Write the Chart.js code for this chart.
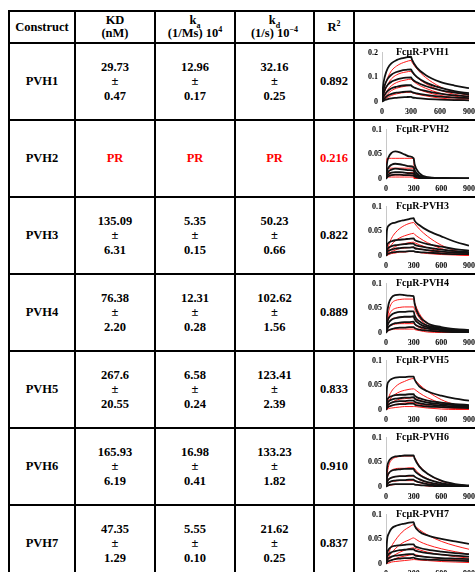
<!DOCTYPE html>
<html>
<head>
<meta charset="utf-8">
<script src="https://cdn.jsdelivr.net/npm/chart.js@4.4.1/dist/chart.umd.min.js"></script>
<style>
  html, body { margin: 0; padding: 0; background: #fff; overflow: hidden; }
  body { width: 475px; height: 572px; position: relative; }
  #kinetics {
    position: absolute; left: 8px; top: 10px;
    border-collapse: collapse; table-layout: fixed; width: 473px;
    font-family: "Liberation Serif", "Times New Roman", serif;
    font-weight: bold; font-size: 12.5px; color: #000;
  }
  #kinetics td, #kinetics th {
    border: 2px solid #000; padding: 0;
    text-align: center; vertical-align: middle; line-height: 14.5px;
  }
  #kinetics th { line-height: 13px; font-weight: bold; }
  #kinetics sub, #kinetics sup { font-size: 8px; line-height: 0; }
  .pr { color: #f00; }
  td.plot { vertical-align: top; }
  td.plot canvas { display: block; }
</style>
</head>
<body>
<table id="kinetics">
  <colgroup>
    <col style="width:66px"><col style="width:80px"><col style="width:80px">
    <col style="width:79px"><col style="width:40px"><col style="width:128px">
  </colgroup>
  <thead>
    <tr style="height:32px">
      <th>Construct</th>
      <th>KD<br>(nM)</th>
      <th>k<sub>a</sub><br>(1/Ms) 10<sup>4</sup></th>
      <th>k<sub>d</sub><br>(1/s) 10<sup>&minus;4</sup></th>
      <th>R<sup>2</sup></th>
      <th></th>
    </tr>
  </thead>
  <tbody id="rows"></tbody>
</table>

<script>
// fitted kinetic constants per construct ("PR" = poor result)
const constructs = ["PVH1", "PVH2", "PVH3", "PVH4", "PVH5", "PVH6", "PVH7"];
const kdNm      = ["29.73", "PR", "135.09", "76.38", "267.6", "165.93", "47.35"];
const kdNmErr   = ["0.47", null, "6.31", "2.20", "20.55", "6.19", "1.29"];
const kaOn      = ["12.96", "PR", "5.35", "12.31", "6.58", "16.98", "5.55"];
const kaOnErr   = ["0.17", null, "0.15", "0.28", "0.24", "0.41", "0.10"];
const kdOff     = ["32.16", "PR", "50.23", "102.62", "123.41", "133.23", "21.62"];
const kdOffErr  = ["0.25", null, "0.66", "1.56", "2.39", "1.82", "0.25"];
const rSquared  = ["0.892", "0.216", "0.822", "0.889", "0.833", "0.910", "0.837"];
const poorFit   = [false, true, false, false, false, false, false];

// sensorgram axes (response units vs seconds)
const sensorTime = [0, 10, 30, 60, 100, 150, 200, 250, 300, 310, 360, 450, 600, 750, 900];
const timeTicks = [0, 300, 600, 900];
const yMax  = [0.2, 0.1, 0.1, 0.1, 0.1, 0.1, 0.1];
const yStep = [0.1, 0.05, 0.05, 0.05, 0.05, 0.05, 0.05];

// measured responses (black) and 1:1 fits (red), one row per analyte concentration
const pvh1Measured = [
  [0, 0.06, 0.105, 0.138, 0.158, 0.170, 0.177, 0.181, 0.184, 0.172, 0.140, 0.110, 0.082, 0.067, 0.056],
  [0, 0.04, 0.07, 0.095, 0.112, 0.122, 0.128, 0.131, 0.133, 0.125, 0.102, 0.080, 0.058, 0.044, 0.036],
  [0, 0.025, 0.05, 0.07, 0.083, 0.091, 0.096, 0.099, 0.100, 0.094, 0.080, 0.065, 0.048, 0.038, 0.030],
  [0, 0.015, 0.03, 0.045, 0.056, 0.062, 0.066, 0.068, 0.069, 0.064, 0.055, 0.045, 0.034, 0.027, 0.023],
  [0, 0.008, 0.016, 0.026, 0.033, 0.038, 0.040, 0.042, 0.043, 0.040, 0.035, 0.029, 0.022, 0.018, 0.016],
  [0, 0.004, 0.008, 0.012, 0.015, 0.017, 0.019, 0.020, 0.021, 0.019, 0.016, 0.013, 0.010, 0.008, 0.007]
];
const pvh1Fit = [
  [0, 0.025, 0.067, 0.100, 0.128, 0.146, 0.157, 0.164, 0.169, 0.162, 0.135, 0.100, 0.062, 0.040, 0.027],
  [0, 0.018, 0.045, 0.072, 0.095, 0.110, 0.118, 0.122, 0.125, 0.120, 0.100, 0.075, 0.048, 0.031, 0.021],
  [0, 0.012, 0.03, 0.05, 0.067, 0.079, 0.086, 0.090, 0.093, 0.089, 0.074, 0.056, 0.036, 0.024, 0.016],
  [0, 0.008, 0.02, 0.034, 0.047, 0.056, 0.061, 0.065, 0.067, 0.064, 0.054, 0.041, 0.027, 0.018, 0.012],
  [0, 0.004, 0.011, 0.019, 0.027, 0.033, 0.037, 0.039, 0.040, 0.038, 0.032, 0.025, 0.016, 0.011, 0.007]
];

const pvh2Measured = [
  [0, 0.03, 0.045, 0.053, 0.056, 0.054, 0.050, 0.046, 0.042, 0.030, 0.012, 0.004, 0.002, 0.001, 0.001],
  [0, 0.015, 0.024, 0.029, 0.031, 0.030, 0.028, 0.026, 0.024, 0.018, 0.007, 0.003, 0.002, 0.001, 0.001],
  [0, 0.01, 0.016, 0.019, 0.021, 0.020, 0.019, 0.018, 0.017, 0.012, 0.005, 0.002, 0.001, 0.001, 0.001],
  [0, 0.006, 0.01, 0.013, 0.014, 0.014, 0.013, 0.012, 0.011, 0.008, 0.003, 0.002, 0.001, 0.001, 0],
  [0, 0.003, 0.006, 0.008, 0.009, 0.009, 0.008, 0.008, 0.007, 0.005, 0.002, 0.001, 0.001, 0, 0]
];
const pvh2Fit = [
  [0, 0.042, 0.042, 0.042, 0.042, 0.042, 0.042, 0.042, 0.042, 0, 0, 0, 0, 0, 0],
  [0, 0.022, 0.022, 0.022, 0.022, 0.022, 0.022, 0.022, 0.022, 0, 0, 0, 0, 0, 0],
  [0, 0.013, 0.013, 0.013, 0.013, 0.013, 0.013, 0.013, 0.013, 0, 0, 0, 0, 0, 0],
  [0, 0.008, 0.008, 0.008, 0.008, 0.008, 0.008, 0.008, 0.008, 0, 0, 0, 0, 0, 0],
  [0, 0.004, 0.004, 0.004, 0.004, 0.004, 0.004, 0.004, 0.004, 0, 0, 0, 0, 0, 0]
];

const pvh3Measured = [
  [0, 0.052, 0.062, 0.066, 0.068, 0.071, 0.073, 0.075, 0.077, 0.072, 0.063, 0.052, 0.040, 0.029, 0.021],
  [0, 0.02, 0.027, 0.030, 0.032, 0.033, 0.034, 0.035, 0.036, 0.033, 0.029, 0.024, 0.019, 0.014, 0.011],
  [0, 0.012, 0.017, 0.020, 0.022, 0.023, 0.024, 0.025, 0.025, 0.023, 0.020, 0.017, 0.013, 0.010, 0.008],
  [0, 0.007, 0.011, 0.013, 0.015, 0.016, 0.017, 0.017, 0.018, 0.016, 0.014, 0.012, 0.009, 0.007, 0.006],
  [0, 0.003, 0.005, 0.007, 0.008, 0.009, 0.009, 0.010, 0.010, 0.009, 0.008, 0.007, 0.005, 0.004, 0.004]
];
const pvh3Fit = [
  [0, 0.008, 0.022, 0.036, 0.047, 0.056, 0.062, 0.066, 0.068, 0.066, 0.055, 0.040, 0.022, 0.011, 0.004],
  [0, 0.005, 0.014, 0.023, 0.031, 0.037, 0.041, 0.044, 0.046, 0.044, 0.037, 0.027, 0.015, 0.008, 0.003],
  [0, 0.003, 0.008, 0.014, 0.019, 0.023, 0.025, 0.027, 0.028, 0.027, 0.023, 0.017, 0.009, 0.005, 0.002],
  [0, 0.002, 0.005, 0.009, 0.012, 0.015, 0.016, 0.017, 0.018, 0.017, 0.015, 0.011, 0.006, 0.003, 0.001],
  [0, 0.001, 0.003, 0.005, 0.006, 0.008, 0.008, 0.009, 0.009, 0.009, 0.007, 0.005, 0.003, 0.002, 0.001]
];

const pvh4Measured = [
  [0, 0.035, 0.060, 0.072, 0.077, 0.078, 0.077, 0.076, 0.075, 0.060, 0.035, 0.020, 0.012, 0.008, 0.006],
  [0, 0.018, 0.030, 0.037, 0.041, 0.043, 0.043, 0.044, 0.044, 0.036, 0.024, 0.015, 0.010, 0.007, 0.005],
  [0, 0.012, 0.021, 0.027, 0.030, 0.032, 0.033, 0.033, 0.034, 0.028, 0.019, 0.012, 0.008, 0.006, 0.004],
  [0, 0.007, 0.013, 0.017, 0.020, 0.021, 0.022, 0.022, 0.023, 0.019, 0.013, 0.009, 0.006, 0.004, 0.003],
  [0, 0.003, 0.006, 0.008, 0.010, 0.011, 0.011, 0.012, 0.012, 0.010, 0.007, 0.005, 0.003, 0.002, 0.002]
];
const pvh4Fit = [
  [0, 0.020, 0.045, 0.060, 0.066, 0.068, 0.069, 0.069, 0.069, 0.062, 0.040, 0.020, 0.007, 0.002, 0.001],
  [0, 0.015, 0.034, 0.045, 0.050, 0.052, 0.053, 0.053, 0.053, 0.048, 0.031, 0.015, 0.005, 0.002, 0.001],
  [0, 0.009, 0.021, 0.028, 0.031, 0.032, 0.033, 0.033, 0.033, 0.030, 0.019, 0.009, 0.003, 0.001, 0],
  [0, 0.005, 0.012, 0.016, 0.018, 0.019, 0.019, 0.019, 0.019, 0.017, 0.011, 0.005, 0.002, 0.001, 0],
  [0, 0.002, 0.005, 0.007, 0.008, 0.008, 0.008, 0.008, 0.008, 0.007, 0.005, 0.002, 0.001, 0, 0]
];

const pvh5Measured = [
  [0, 0.045, 0.058, 0.063, 0.066, 0.067, 0.067, 0.068, 0.068, 0.062, 0.048, 0.038, 0.029, 0.023, 0.019],
  [0, 0.018, 0.025, 0.028, 0.030, 0.031, 0.031, 0.032, 0.032, 0.029, 0.024, 0.019, 0.015, 0.012, 0.010],
  [0, 0.012, 0.018, 0.021, 0.023, 0.024, 0.025, 0.025, 0.026, 0.023, 0.019, 0.015, 0.012, 0.010, 0.008],
  [0, 0.007, 0.012, 0.015, 0.017, 0.018, 0.018, 0.019, 0.019, 0.017, 0.014, 0.011, 0.009, 0.007, 0.006],
  [0, 0.004, 0.007, 0.009, 0.011, 0.012, 0.012, 0.013, 0.013, 0.011, 0.009, 0.007, 0.006, 0.005, 0.004]
];
const pvh5Fit = [
  [0, 0.010, 0.026, 0.038, 0.047, 0.054, 0.058, 0.062, 0.064, 0.062, 0.052, 0.038, 0.021, 0.011, 0.006],
  [0, 0.007, 0.017, 0.026, 0.032, 0.037, 0.040, 0.042, 0.043, 0.042, 0.035, 0.025, 0.014, 0.008, 0.004],
  [0, 0.004, 0.010, 0.015, 0.019, 0.022, 0.023, 0.024, 0.025, 0.024, 0.020, 0.015, 0.008, 0.004, 0.002],
  [0, 0.002, 0.006, 0.009, 0.011, 0.013, 0.014, 0.015, 0.015, 0.014, 0.012, 0.009, 0.005, 0.003, 0.001],
  [0, 0.001, 0.003, 0.004, 0.005, 0.006, 0.007, 0.007, 0.007, 0.007, 0.006, 0.004, 0.002, 0.001, 0.001]
];

const pvh6Measured = [
  [0, 0.035, 0.052, 0.059, 0.062, 0.063, 0.064, 0.064, 0.064, 0.058, 0.042, 0.027, 0.013, 0.006, 0.003],
  [0, 0.018, 0.028, 0.033, 0.035, 0.036, 0.037, 0.037, 0.037, 0.033, 0.025, 0.016, 0.008, 0.004, 0.002],
  [0, 0.010, 0.016, 0.019, 0.021, 0.022, 0.022, 0.023, 0.023, 0.021, 0.016, 0.010, 0.005, 0.003, 0.001],
  [0, 0.005, 0.009, 0.012, 0.013, 0.014, 0.014, 0.015, 0.015, 0.013, 0.010, 0.006, 0.003, 0.002, 0.001],
  [0, 0.002, 0.004, 0.005, 0.006, 0.006, 0.006, 0.006, 0.006, 0.005, 0.004, 0.003, 0.001, 0.001, 0]
];
const pvh6Fit = [
  [0, 0.022, 0.044, 0.055, 0.060, 0.062, 0.063, 0.063, 0.063, 0.060, 0.044, 0.027, 0.012, 0.005, 0.002],
  [0, 0.014, 0.027, 0.034, 0.037, 0.038, 0.038, 0.039, 0.039, 0.037, 0.027, 0.017, 0.007, 0.003, 0.001],
  [0, 0.008, 0.015, 0.019, 0.021, 0.022, 0.022, 0.022, 0.022, 0.021, 0.015, 0.009, 0.004, 0.002, 0.001],
  [0, 0.004, 0.008, 0.011, 0.012, 0.013, 0.013, 0.013, 0.013, 0.012, 0.009, 0.006, 0.002, 0.001, 0],
  [0, 0.002, 0.003, 0.004, 0.005, 0.005, 0.005, 0.005, 0.005, 0.005, 0.004, 0.002, 0.001, 0, 0]
];

const pvh7Measured = [
  [0, 0.045, 0.062, 0.072, 0.077, 0.080, 0.082, 0.084, 0.085, 0.078, 0.066, 0.058, 0.051, 0.046, 0.041],
  [0, 0.020, 0.030, 0.035, 0.037, 0.038, 0.039, 0.040, 0.040, 0.037, 0.033, 0.029, 0.025, 0.022, 0.020],
  [0, 0.013, 0.020, 0.024, 0.026, 0.028, 0.029, 0.030, 0.030, 0.028, 0.025, 0.022, 0.019, 0.017, 0.015],
  [0, 0.007, 0.012, 0.015, 0.017, 0.018, 0.019, 0.020, 0.020, 0.018, 0.016, 0.014, 0.012, 0.011, 0.010],
  [0, 0.003, 0.006, 0.008, 0.010, 0.011, 0.012, 0.012, 0.013, 0.012, 0.010, 0.009, 0.008, 0.007, 0.006]
];
const pvh7Fit = [
  [0, 0.008, 0.022, 0.036, 0.048, 0.060, 0.069, 0.075, 0.080, 0.078, 0.070, 0.059, 0.046, 0.037, 0.030],
  [0, 0.005, 0.014, 0.023, 0.031, 0.039, 0.045, 0.049, 0.053, 0.052, 0.046, 0.039, 0.031, 0.025, 0.020],
  [0, 0.003, 0.009, 0.014, 0.019, 0.024, 0.028, 0.031, 0.033, 0.032, 0.029, 0.024, 0.019, 0.015, 0.012],
  [0, 0.002, 0.005, 0.008, 0.011, 0.014, 0.016, 0.018, 0.019, 0.019, 0.017, 0.014, 0.011, 0.009, 0.007],
  [0, 0.001, 0.002, 0.004, 0.005, 0.006, 0.007, 0.008, 0.009, 0.009, 0.008, 0.007, 0.005, 0.004, 0.003]
];

const measuredSets = [pvh1Measured, pvh2Measured, pvh3Measured, pvh4Measured, pvh5Measured, pvh6Measured, pvh7Measured];
const fitSets = [pvh1Fit, pvh2Fit, pvh3Fit, pvh4Fit, pvh5Fit, pvh6Fit, pvh7Fit];

const serif = "'Liberation Serif', 'Times New Roman', serif";

function valueCell(val, err, bad) {
    if (bad) return `<td class="pr">${val}</td>`;
    return `<td>${val}<br>&plusmn;<br>${err}</td>`;
}

const tbody = document.getElementById("rows");
constructs.forEach((name, i) => {
    const tr = document.createElement("tr");
    tr.style.height = i === constructs.length - 1 ? "77px" : "76.5px";
    tr.innerHTML = `
        <td>${name}</td>
        ${valueCell(kdNm[i], kdNmErr[i], poorFit[i])}
        ${valueCell(kaOn[i], kaOnErr[i], poorFit[i])}
        ${valueCell(kdOff[i], kdOffErr[i], poorFit[i])}
        <td class="${poorFit[i] ? "pr" : ""}">${rSquared[i]}</td>
        <td class="plot"><canvas width="126" height="75"></canvas></td>
    `;
    tbody.appendChild(tr);
    drawSensorgram(tr.querySelector("canvas"), i);
});

function drawSensorgram(canvas, i) {
    const toPoints = curve => curve.map((v, k) => ({ x: sensorTime[k], y: v }));
    const datasets = [];

    measuredSets[i].forEach(curve => datasets.push({
        data: toPoints(curve),
        borderColor: "#111",
        borderWidth: 1.8,
        pointRadius: 0,
        cubicInterpolationMode: "monotone"
    }));
    fitSets[i].forEach(curve => datasets.push({
        data: toPoints(curve),
        borderColor: "#ff1a1a",
        borderWidth: 1,
        pointRadius: 0,
        cubicInterpolationMode: "monotone"
    }));

    // "FcμR-PVHn" label sits inside the top of the plot
    const panelTitle = {
        id: "panelTitle",
        afterDraw(chart) {
            const ctx = chart.ctx;
            ctx.save();
            ctx.font = `bold 10px ${serif}`;
            ctx.fillStyle = "#000";
            ctx.textBaseline = "alphabetic";
            ctx.fillText("Fc\u03BCR-" + constructs[i], 41, 11);
            ctx.restore();
        }
    };

    const tickFont = { family: serif, size: 8, weight: "bold" };

    new Chart(canvas, {
        type: "line",
        data: { datasets },
        options: {
            responsive: false,
            animation: false,
            events: [],
            layout: { padding: { left: 9, right: 12, top: 6, bottom: 2 } },
            plugins: { legend: { display: false }, tooltip: { enabled: false } },
            scales: {
                x: {
                    type: "linear", min: 0, max: 900,
                    grid: { display: false, drawTicks: false },
                    border: { display: false },
                    afterBuildTicks: axis => { axis.ticks = timeTicks.map(v => ({ value: v })); },
                    afterFit: axis => { axis.height = 15; },
                    ticks: { padding: 5, color: "#000", font: tickFont, maxRotation: 0 }
                },
                y: {
                    min: 0, max: yMax[i],
                    grid: { display: false, drawTicks: false },
                    border: { display: true, color: "#c8c8c8", width: 1 },
                    ticks: {
                        stepSize: yStep[i], padding: 4, color: "#000", font: tickFont,
                        callback: v => String(+v.toFixed(2))
                    }
                }
            }
        },
        plugins: [panelTitle]
    });
}
</script>
</body>
</html>
